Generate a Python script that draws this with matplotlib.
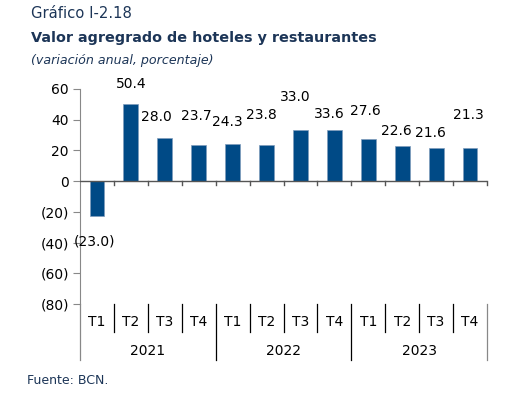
import numpy as np
import matplotlib
matplotlib.use("Agg")
import matplotlib.pyplot as plt

# Data
years = ["2021", "2022", "2023"]
quarters = ["T1", "T2", "T3", "T4"]
values = [-23.0, 50.4, 28.0, 23.7,
          24.3, 23.8, 33.0, 33.6,
          27.6, 22.6, 21.6, 21.3]

# label offsets (points) to mimic the original layout
label_dy = [-13, 9, 10, 16, 11, 16, 19, 6, 15, 6, 6, 19]
label_dx = [-2, 0, -6, -2, -4, -4, -4, -4, -2, -4, -4, -1]

BAR = "#004a86"
NAVY = "#1c3557"

fig = plt.figure(figsize=(5.11, 3.98), dpi=100)
ax = fig.add_axes([0.1566, 0.2362, 0.7964, 0.5402])

x = np.arange(len(values))
ax.bar(x, values, width=0.44, color=BAR, edgecolor="#7f9cbc", linewidth=0.5, zorder=3)

def fmt(v):
    return f"({abs(v):.1f})" if v < 0 else f"{v:.1f}"

for xi, v, dx, dy in zip(x, values, label_dx, label_dy):
    ax.annotate(fmt(v), (xi, v), xytext=(dx, dy), textcoords="offset points",
                ha="center", va="bottom" if v >= 0 else "top",
                fontsize=10, color="black", family="DejaVu Sans")

ax.set_xlim(-0.5, len(values) - 0.5)
ax.set_ylim(-80, 60)
yt = np.arange(-80, 61, 20)
ax.set_yticks(yt)
ax.set_yticklabels([f"({abs(t)})" if t < 0 else str(t) for t in yt])
ax.tick_params(axis="y", direction="out", length=5, width=0.8, color="#888888",
               labelsize=10, pad=3)
ax.set_xticks([])

for s in ["top", "right", "bottom"]:
    ax.spines[s].set_visible(False)
ax.spines["left"].set_color("#888888")
ax.spines["left"].set_linewidth(0.8)

# zero line with boundary ticks
ax.axhline(0, color="#555555", linewidth=1.0, zorder=4)
for b in np.arange(-0.5, len(values), 1.0)[1:]:
    ax.plot([b, b], [0, -2.2], color="#555555", linewidth=1.0, clip_on=False, zorder=4)

# category axis below plot area
trans = ax.get_xaxis_transform()
nq = len(quarters)
for i, xi in enumerate(x):
    ax.text(xi, -0.085, quarters[i % nq], transform=trans, ha="center", va="center",
            fontsize=10, color="black")
for j, yr in enumerate(years):
    ax.text(j * nq + (nq - 1) / 2, -0.22, yr, transform=trans, ha="center", va="center",
            fontsize=10, color="black")

for k in range(len(values) + 1):
    b = k - 0.5
    if k % nq == 0:
        ax.plot([b, b], [0, -0.26], transform=trans, color="black" if 0 < k < len(values) else "#888888",
                linewidth=0.9, clip_on=False)
    else:
        ax.plot([b, b], [0, -0.13], transform=trans, color="black", linewidth=0.9, clip_on=False)

# titles
fig.text(0.06, 0.965, "Gráfico I-2.18", fontsize=10.6, color=NAVY, va="center")
fig.text(0.06, 0.905, "Valor agregrado de hoteles y restaurantes", fontsize=10.4, color=NAVY,
         fontweight="bold", va="center")
fig.text(0.06, 0.847, "(variación anual, porcentaje)", fontsize=9.1, color=NAVY,
         style="italic", va="center")
fig.text(0.052, 0.043, "Fuente: BCN.", fontsize=9, color=NAVY, va="center")

fig.savefig("out.png", dpi=100)
